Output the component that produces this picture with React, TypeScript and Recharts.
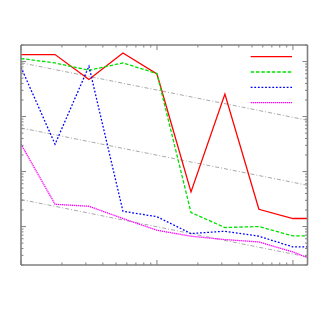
import React from "react";
import { LineChart, Line, XAxis, YAxis, Legend } from "recharts";

// sample positions along x (log axis, quarter decades)
const xs = [1, 1.78, 3.16, 5.62, 10, 17.8, 31.6, 56.2, 100, 178];

const redValues = [1340, 1340, 471, 1433, 595, 4.26, 257, 2.06, 1.4, 1.4];
const greenValues = [1135, 943, 695, 943, 605, 1.8, 0.96, 1.0, 0.675, 0.675];
const blueValues = [788, 31.4, 822, 1.9, 1.51, 0.746, 0.822, 0.667, 0.426, 0.43];
const magentaValues = [31.4, 2.54, 2.34, 1.4, 0.857, 0.667, 0.58, 0.525, 0.345, 0.2];

// gray reference lines (end points)
const guideX = [1, 128];
const guideHigh = [950, 85.7];
const guideMid = [62, 5.63];
const guideLow = [3.1, 0.28];

const series = [
  { key: "red", color: "#ff0000", dash: undefined as string | undefined },
  { key: "green", color: "#00e000", dash: "3.5 1.8" },
  { key: "blue", color: "#0000ff", dash: "1.8 1.8" },
  { key: "magenta", color: "#ff00ff", dash: "1.3 0.7" },
];

const data = xs.map((x, i) => ({
  x,
  red: redValues[i],
  green: greenValues[i],
  blue: blueValues[i],
  magenta: magentaValues[i],
}));

const guides = [guideHigh, guideMid, guideLow].map((vals) =>
  guideX.map((x, i) => ({ x, y: vals[i] }))
);

const decadeTicks = (from: number, to: number) => {
  const out: number[] = [];
  for (let e = from; e <= to; e++) {
    for (let m = 1; m <= 9; m++) out.push(m * Math.pow(10, e));
  }
  return out;
};
const xTicks = decadeTicks(0, 2).filter((v) => v <= 128);
const yTicks = decadeTicks(-1, 3).filter((v) => v >= 0.2 && v <= 2000);

const W = 314;
const H = 314;
// plot box edges
const L = 21;
const R = 307.5;
const T = 45;
const B = 265;
// axes are 1px thick boxes outside the plot
const margin = { top: T - 1, right: W - R - 1, bottom: H - B - 1, left: L - 1 };
const FRAME = "#808080";

const isMajor = (v: number) => {
  const l = Math.log10(v);
  return Math.abs(l - Math.round(l)) < 1e-6;
};

const makeTick = (side: "bottom" | "top" | "left" | "right") => (props: any) => {
  const c = props.payload.coordinate;
  const len = isMajor(props.payload.value) ? 5 : 2.5;
  let p = { x1: 0, y1: 0, x2: 0, y2: 0 };
  if (side === "bottom") p = { x1: c, y1: B, x2: c, y2: B - len };
  if (side === "top") p = { x1: c, y1: T, x2: c, y2: T + len };
  if (side === "left") p = { x1: L, y1: c, x2: L + len, y2: c };
  if (side === "right") p = { x1: R, y1: c, x2: R - len, y2: c };
  return <line {...p} stroke={FRAME} strokeWidth={1} />;
};

const LegendBox = () => (
  <svg width={50} height={60}>
    {series.map((s, i) => (
      <line
        key={s.key}
        x1={4.7}
        x2={46}
        y1={6.7 + i * 15.3}
        y2={6.7 + i * 15.3}
        stroke={s.color}
        strokeWidth={1.3}
        strokeDasharray={s.dash}
      />
    ))}
  </svg>
);

const axisLine = { stroke: FRAME, strokeWidth: 1.6 };

export default function App() {
  return (
    <div style={{ position: "absolute", left: 0, top: 0, width: W, height: H, background: "#fff" }}>
      <LineChart width={W} height={H} data={data} margin={margin}>
        <XAxis
          xAxisId="b"
          dataKey="x"
          type="number"
          scale="log"
          domain={[1, 128]}
          allowDataOverflow
          ticks={xTicks}
          interval={0}
          height={1}
          tickLine={false}
          axisLine={axisLine}
          tick={makeTick("bottom")}
        />
        <XAxis
          xAxisId="t"
          orientation="top"
          dataKey="x"
          type="number"
          scale="log"
          domain={[1, 128]}
          allowDataOverflow
          ticks={xTicks}
          interval={0}
          height={1}
          tickLine={false}
          axisLine={axisLine}
          tick={makeTick("top")}
        />
        <YAxis
          yAxisId="l"
          type="number"
          scale="log"
          domain={[0.2, 2000]}
          allowDataOverflow
          ticks={yTicks}
          interval={0}
          width={1}
          tickLine={false}
          axisLine={axisLine}
          tick={makeTick("left")}
        />
        <YAxis
          yAxisId="r"
          orientation="right"
          type="number"
          scale="log"
          domain={[0.2, 2000]}
          allowDataOverflow
          ticks={yTicks}
          interval={0}
          width={1}
          tickLine={false}
          axisLine={axisLine}
          tick={makeTick("right")}
        />
        {guides.map((g, i) => (
          <Line
            key={"guide" + i}
            xAxisId="b"
            yAxisId="l"
            data={g}
            dataKey="y"
            stroke="#a8a8a8"
            strokeWidth={1}
            strokeDasharray="4 2 1 2"
            dot={false}
            isAnimationActive={false}
            legendType="none"
          />
        ))}
        {series.map((s) => (
          <Line
            key={s.key}
            xAxisId="b"
            yAxisId="l"
            dataKey={s.key}
            stroke={s.color}
            strokeWidth={1.3}
            strokeDasharray={s.dash}
            dot={false}
            isAnimationActive={false}
          />
        ))}
        <Legend
          layout="vertical"
          align="center"
          verticalAlign="middle"
          wrapperStyle={{ left: 246, top: 50, width: 50, height: 60 }}
          content={() => <LegendBox />}
        />
      </LineChart>
    </div>
  );
}
